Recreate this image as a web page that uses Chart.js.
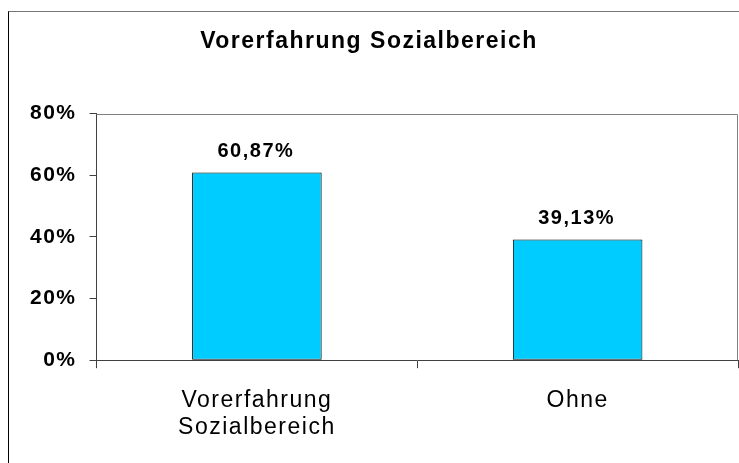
<!DOCTYPE html>
<html>
<head>
<meta charset="utf-8">
<script src="https://cdn.jsdelivr.net/npm/chart.js@4/dist/chart.umd.min.js"></script>
<style>
  html, body { margin: 0; padding: 0; background: #fff; }
  body { width: 739px; height: 463px; position: relative; overflow: hidden; }
  #frame { position: absolute; left: 8px; top: 11px; width: 760px; height: 480px;
           border-left: 1px solid #000; border-top: 1px solid #777; box-sizing: border-box; }
  #wrap { position: absolute; left: 0; top: 0; width: 739px; height: 463px; }
</style>
</head>
<body>
<div id="frame"></div>
<div id="wrap"><canvas id="c" width="739" height="463"></canvas></div>
<script>
const chartTitle = 'Vorerfahrung Sozialbereich';
const categories = [['Vorerfahrung', 'Sozialbereich'], 'Ohne'];
const values = [60.87, 39.13];
const valueLabels = ['60,87%', '39,13%'];
const yTicks = [0, 20, 40, 60, 80];

const FONT = '"Liberation Sans", Arial, sans-serif';
const SPACING = '1.5px';

const spacingPlugin = {
  id: 'spacing',
  beforeUpdate(c) { c.ctx.letterSpacing = SPACING; },
  beforeLayout(c) { c.ctx.letterSpacing = SPACING; },
  afterLayout(c) {
    if (c.titleBlock) { c.titleBlock.left = 0; c.titleBlock.right = 738; }
  },
  beforeDraw(c) { c.ctx.letterSpacing = SPACING; },
  resize(c) { c.ctx.letterSpacing = SPACING; }
};

const framePlugin = {
  id: 'frame',
  beforeDatasetsDraw(c) {
    const a = c.chartArea, ctx = c.ctx;
    ctx.save();
    ctx.strokeStyle = '#808080';
    ctx.lineWidth = 1;
    ctx.beginPath();
    ctx.moveTo(a.left, Math.round(a.top) + 0.5);
    ctx.lineTo(Math.round(a.right) - 0.5, Math.round(a.top) + 0.5);
    ctx.lineTo(Math.round(a.right) - 0.5, a.bottom);
    ctx.stroke();
    ctx.restore();
  }
};

const valueLabelPlugin = {
  id: 'valueLabels',
  afterDatasetsDraw(c) {
    const ctx = c.ctx;
    const meta = c.getDatasetMeta(0);
    meta.data.forEach((bar, i) => {
      ctx.save();
      ctx.letterSpacing = SPACING;
      ctx.font = 'bold 20px ' + FONT;
      ctx.fillStyle = '#000';
      ctx.textAlign = 'center';
      ctx.textBaseline = 'alphabetic';
      ctx.fillText(valueLabels[i], bar.x - 1, bar.y - 16);
      ctx.restore();
    });
  }
};

new Chart(document.getElementById('c'), {
  type: 'bar',
  data: {
    labels: categories,
    datasets: [{
      data: values,
      backgroundColor: '#00CCFF',
      borderColor: '#000000',
      borderWidth: 1,
      borderSkipped: false,
      barPercentage: 0.404,
      categoryPercentage: 1.0
    }]
  },
  options: {
    responsive: false,
    animation: false,
    devicePixelRatio: 1,
    layout: { padding: { left: 17, right: 1, top: 0, bottom: 3 } },
    plugins: {
      legend: { display: false },
      tooltip: { enabled: false },
      title: {
        display: true,
        text: chartTitle,
        color: '#000',
        font: { family: FONT, size: 23, weight: 'bold', lineHeight: 1.2 },
        padding: { top: 28, bottom: 58 }
      }
    },
    scales: {
      x: {
        offset: true,
        grid: { display: true, drawOnChartArea: false, drawTicks: true, tickLength: 8, tickColor: '#404040', offset: true },
        border: { display: true, color: '#404040', width: 1 },
        ticks: {
          color: '#000',
          padding: 19,
          maxRotation: 0,
          font: { family: FONT, size: 23, lineHeight: 1.17 }
        }
      },
      y: {
        min: 0,
        max: 80,
        afterBuildTicks(scale) { scale.ticks = yTicks.map(v => ({ value: v })); },
        grid: { display: true, drawOnChartArea: false, drawTicks: true, tickLength: 7, tickColor: '#404040' },
        border: { display: true, color: '#404040', width: 1 },
        ticks: {
          color: '#000',
          padding: 13,
          font: { family: FONT, size: 21, weight: 'bold' },
          callback: v => v + '%'
        }
      }
    }
  },
  plugins: [spacingPlugin, framePlugin, valueLabelPlugin]
});
</script>
</body>
</html>
